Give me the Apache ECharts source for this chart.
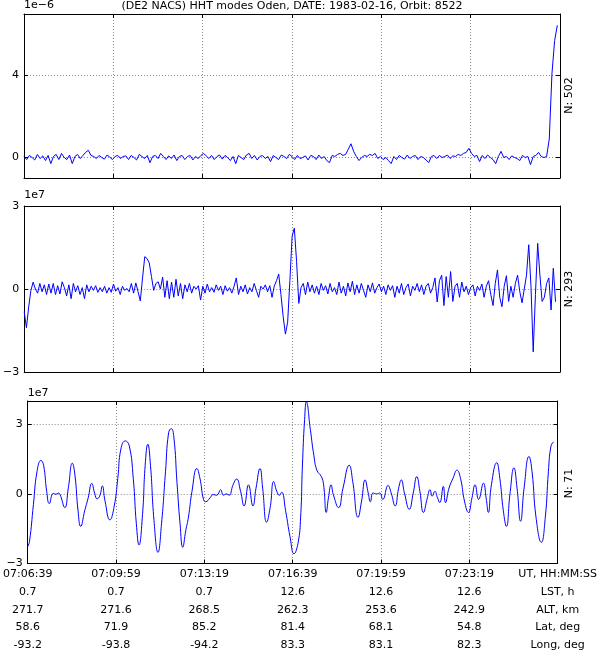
<!DOCTYPE html>
<html><head><meta charset="utf-8">
<script src="https://cdn.jsdelivr.net/npm/echarts@6/dist/echarts.min.js"></script>
<style>html,body{margin:0;padding:0;background:#fff}#c{width:600px;height:654px}</style>
</head><body><div id="c"></div>
<script>
// ---------- data ----------
const titleText = '(DE2 NACS) HHT modes Oden, DATE: 1983-02-16, Orbit: 8522';
const tickSeconds = [0, 200, 400, 600, 800, 1000, 1200]; // seconds after 07:06:39
const utLabels  = ['07:06:39','07:09:59','07:13:19','07:16:39','07:19:59','07:23:19','UT, HH:MM:SS'];
const lstLabels = ['0.7','0.7','0.7','12.6','12.6','12.6','LST, h'];
const altLabels = ['271.7','271.6','268.5','262.3','253.6','242.9','ALT, km'];
const latLabels = ['58.6','71.9','85.2','81.4','68.1','54.8','Lat, deg'];
const lonLabels = ['-93.2','-93.8','-94.2','83.3','83.1','82.3','Long, deg'];
const modeCounts = [502, 293, 71];
const yMultipliers = ['1e\u22126', '1e7', '1e7'];

// mode 1 (units of 1e-6), sampled every 6 s
const mode1Step = 6;
const mode1Values = [
 0.05,-0.1,0.1,0.0,-0.12,0.15,-0.05,0.08,-0.15,0.1,
 -0.3,0.05,0.15,-0.1,0.2,0.0,-0.1,0.12,-0.3,0.05,
 0.15,-0.05,0.1,0.25,0.35,0.1,0.05,-0.05,0.1,0.0,
 -0.08,0.12,0.02,-0.1,0.05,0.1,-0.05,0.05,0.08,-0.1,
 0.1,0.0,-0.12,0.15,0.05,-0.05,0.1,-0.25,0.05,0.1,
 -0.05,0.2,0.05,-0.1,0.08,-0.05,0.12,-0.15,0.05,0.1,
 -0.1,0.05,0.1,-0.12,0.05,-0.05,0.1,0.2,0.08,-0.05,
 0.1,-0.1,0.05,0.12,-0.08,0.1,0.0,-0.15,0.05,-0.3,
 0.1,0.0,-0.1,0.12,0.2,-0.05,0.1,-0.12,0.05,0.1,
 -0.05,0.05,-0.2,0.1,0.0,-0.1,0.12,0.05,-0.05,0.15,
 0.05,-0.1,0.1,-0.05,0.0,0.08,-0.12,0.1,0.05,-0.1,
 0.12,-0.05,0.05,-0.15,-0.25,0.1,0.05,0.15,0.2,0.1,
 0.15,0.4,0.67,0.3,0.05,-0.15,0.0,0.1,0.05,0.15,
 0.1,0.2,-0.05,0.05,-0.1,0.0,-0.15,-0.3,0.05,-0.1,
 0.1,0.0,-0.08,0.12,-0.05,0.05,0.1,-0.1,0.05,0.0,
 -0.12,-0.25,0.05,0.1,-0.05,0.1,0.0,0.05,0.12,-0.05,
 0.08,0.05,0.15,0.1,0.2,0.25,0.45,0.2,0.05,0.1,
 -0.2,0.1,-0.05,0.12,0.0,-0.1,-0.3,0.05,0.3,0.0,
 0.05,-0.1,0.08,0.0,-0.05,-0.15,0.1,0.0,0.05,-0.35,
 0.05,0.1,0.25,0.05,0.0,0.05,0.9,4.1,5.7,6.45
];

// mode 2 (units of 1e7), sampled every 5 s
const mode2Step = 5;
const mode2Values = [
 -0.82,-1.4,-0.65,-0.05,0.25,0.0,-0.15,0.2,-0.1,0.15,
 -0.2,0.18,-0.15,0.2,-0.2,0.12,-0.18,0.26,0.05,-0.25,
 0.15,-0.35,0.2,-0.1,0.12,-0.2,0.05,-0.35,0.15,-0.1,
 0.1,-0.05,0.12,-0.12,0.05,-0.1,0.1,-0.15,0.05,-0.12,
 0.18,-0.08,0.05,-0.2,0.1,-0.05,0.02,-0.1,0.2,-0.15,
 0.22,-0.1,-0.43,0.4,1.17,1.1,0.95,0.45,-0.05,0.2,
 0.26,0.0,0.43,-0.3,0.3,-0.35,0.25,-0.3,0.35,-0.25,
 0.2,-0.35,0.15,-0.1,0.2,-0.15,0.1,0.0,0.12,-0.4,
 0.1,-0.15,0.18,-0.1,0.05,-0.12,0.15,-0.05,0.1,-0.2,
 0.12,-0.08,0.05,-0.15,0.1,0.4,-0.2,0.1,-0.1,0.15,
 -0.18,0.05,-0.1,0.2,-0.05,-0.3,0.1,0.0,0.15,-0.1,
 0.12,-0.3,0.1,0.3,0.54,-0.2,-1.0,-1.63,-1.2,0.3,
 1.9,2.2,1.0,-0.52,0.05,0.2,-0.2,0.25,-0.1,0.15,
 -0.15,0.1,-0.2,0.2,-0.05,0.12,-0.18,0.2,-0.1,0.05,
 -0.2,0.25,-0.15,0.1,-0.25,0.22,-0.1,0.28,-0.2,0.15,
 -0.15,0.2,-0.05,-0.3,0.15,-0.1,0.22,-0.15,0.05,0.18,
 -0.1,0.1,-0.2,0.15,-0.05,0.12,-0.3,0.1,-0.15,0.2,
 -0.2,0.05,0.18,-0.25,0.1,-0.05,0.2,-0.1,0.15,-0.2,
 0.1,0.2,-0.15,0.05,0.4,-0.47,0.3,0.5,-0.6,0.45,
 -0.3,0.63,-0.45,0.1,0.2,-0.3,0.25,-0.1,0.1,-0.2,
 0.05,0.15,-0.25,0.1,-0.05,0.18,-0.3,0.1,0.3,-0.2,
 -0.6,0.2,0.69,-0.3,-0.64,0.1,0.48,-0.45,0.1,-0.3,
 0.2,0.5,-0.1,-0.5,0.0,0.5,1.6,0.1,-2.27,-0.2,
 1.65,0.5,-0.45,-0.3,0.2,0.4,-0.76,0.75,-0.46
];

// mode 3 (units of 1e7), times in seconds after 07:06:39
const mode3Times = [
 0,4,13,21,30,36,43,49,58,64,
 69,73,84,92,101,107,114,120,129,137,
 145,152,157,163,169,175,186,196,204,211,
 221,230,239,246,252,260,266,272,278,286,
 295,303,312,319,325,331,338,345,351,358,
 364,372,383,390,398,403,413,420,428,437,
 443,450,456,465,473,482,490,500,510,517,
 526,532,541,549,557,564,570,575,584,594,
 603,612,618,622,627,631,640,648,655,665,
 670,676,681,687,692,704,714,728,736,748,
 756,764,771,776,782,790,797,804,816,823,
 832,840,846,853,864,873,881,888,896,905,
 911,916,922,928,933,941,946,954,963,972,
 980,989,998,1006,1013,1021,1032,1038,1043,1050,
 1062,1069,1077,1084,1092,1101,1108,1116,1124,1135,
 1142,1151,1163,1172,1179,1185,1191
];
const mode3Values = [
 -2.27,-2.06,-0.45,0.95,1.44,1.23,0.11,-0.42,0.02,-0.02,
 0.03,-0.02,-0.59,0.26,1.32,0.8,-0.73,-1.4,-0.73,-0.17,
 0.45,0,-0.21,-0.1,0.34,-0.3,-1.12,-0.52,0.67,1.93,
 2.28,2.07,0.67,-1.29,-2.2,-0.88,1.23,2.14,1.23,-1.15,
 -2.52,-1.29,0.95,2.63,2.81,2.43,0.5,-1.29,-2.3,-1.57,
 -1.0,0.11,1.09,0.67,-0.24,-0.34,-0.17,-0.03,-0.06,0.18,
 -0.06,0,-0.06,0.39,0.64,0.11,-0.52,0.39,-0.52,0.25,
 1.09,0.25,-1.22,-0.59,0.53,0.11,-0.06,0.07,-0.73,-1.85,
 -2.58,-2.13,-1.0,1.2,3.2,3.96,2.77,1.65,1.01,0.74,
 0.39,-0.8,-0.17,0.39,-0.03,-0.59,0.25,1.23,0.53,-1.01,
 -0.31,0.6,0.04,-0.34,0.04,0,0.04,-0.24,0.36,0.04,
 -0.52,0.25,0.6,0.04,-0.66,0.04,0.74,0.11,-0.8,-0.17,
 0.18,-0.1,0.11,-0.17,-0.38,0.32,-0.38,0.25,0.67,1.02,
 0.67,-0.31,-0.8,-0.17,0.39,-0.24,0.46,-0.17,-0.8,0.39,
 1.34,0.67,-0.73,-1.4,0,1.12,0.25,-1.18,0.25,1.61,
 0.95,-1.01,-2.09,-1.01,0.95,2.07,2.24
];

// y axis ranges and ticks (in the multiplier units)
const yRanges = [[-1, 7], [-3, 3], [-3, 4]];
const yGridTicks = [[0, 4], [0], [0, 3]];
const yTickLabels = [[0, 4], [-3, 0, 3], [-3, 0, 3]];

// ---------- chart ----------
const FONT = 'DejaVu Sans';
const FS = 11;
const BLUE = '#0000ff';
const grids = [
  {left: 24, top: 13, width: 536, height: 165},
  {left: 24, top: 206, width: 536, height: 166},
  {left: 24, top: 401, width: 536, height: 165}
];
const innerX = tickSeconds.slice(1, -1);
const gridLine = {show: true, lineStyle: {color: '#8a8a8a', width: 1, type: [1, 2]}};
const frame = {show: true, onZero: false, lineStyle: {color: '#000', width: 1}};
const minus = v => (v < 0 ? '\u2212' + Math.abs(v) : String(v));

const xAxes = [], yAxes = [], series = [], graphics = [];
grids.forEach((g, gi) => {
  xAxes.push({
    type: 'value', gridIndex: gi, position: 'bottom', min: 0, max: 1200, interval: 200,
    axisLine: frame,
    axisTick: {show: true, inside: true, length: 4, customValues: innerX, lineStyle: {color: '#000'}},
    splitLine: gridLine,
    axisLabel: {
      show: gi === 2, customValues: tickSeconds, margin: 2,
      fontFamily: FONT, fontSize: FS, color: '#000', lineHeight: 17.7, align: 'center',
      formatter: v => {
        const k = tickSeconds.indexOf(Math.round(v));
        return [utLabels[k], lstLabels[k], altLabels[k], latLabels[k], lonLabels[k]].join('\n');
      }
    }
  });
  xAxes.push({
    type: 'value', gridIndex: gi, position: 'top', min: 0, max: 1200, interval: 200,
    axisLine: frame,
    axisTick: {show: true, inside: true, length: 4, customValues: innerX, lineStyle: {color: '#000'}},
    splitLine: {show: false}, axisLabel: {show: false}
  });
  yAxes.push({
    type: 'value', gridIndex: gi, position: 'left', min: yRanges[gi][0], max: yRanges[gi][1],
    axisLine: frame,
    axisTick: {show: true, inside: true, length: 4, customValues: yGridTicks[gi], lineStyle: {color: '#000'}},
    splitLine: gridLine,
    axisLabel: {customValues: yTickLabels[gi], formatter: minus, margin: 5,
      fontFamily: FONT, fontSize: FS, color: '#000'},
    name: yMultipliers[gi], nameLocation: 'end', nameGap: gi === 0 ? 3 : 2,
    nameTextStyle: {align: 'left', fontFamily: FONT, fontSize: FS, color: '#000', padding: 0}
  });
  yAxes.push({
    type: 'value', gridIndex: gi, position: 'right', min: yRanges[gi][0], max: yRanges[gi][1],
    axisLine: frame,
    axisTick: {show: true, inside: true, length: 4, customValues: yGridTicks[gi], lineStyle: {color: '#000'}},
    splitLine: {show: false}, axisLabel: {show: false}
  });
  graphics.push({
    type: 'text', x: g.left + g.width + 9, y: g.top + g.height / 2, rotation: Math.PI / 2,
    style: {text: 'N: ' + modeCounts[gi], font: FS + 'px "' + FONT + '"', fill: '#000',
      align: 'center', verticalAlign: 'middle'}
  });
});

series.push({type: 'line', xAxisIndex: 0, yAxisIndex: 0, showSymbol: false, animation: false,
  lineStyle: {color: BLUE, width: 1}, data: mode1Values.map((v, i) => [i * mode1Step, v])});
series.push({type: 'line', xAxisIndex: 2, yAxisIndex: 2, showSymbol: false, animation: false,
  lineStyle: {color: BLUE, width: 1}, data: mode2Values.map((v, i) => [i * mode2Step, v])});
series.push({type: 'line', xAxisIndex: 4, yAxisIndex: 4, showSymbol: false, animation: false,
  smooth: 0.5,
  lineStyle: {color: BLUE, width: 1}, data: mode3Times.map((t, i) => [t, mode3Values[i]])});

graphics.push({
  type: 'text', x: 292, y: 6,
  style: {text: titleText, font: FS + 'px "' + FONT + '"', fill: '#000', align: 'center', verticalAlign: 'middle'}
});

const chart = echarts.init(document.getElementById('c'), null, {renderer: 'canvas'});
chart.setOption({
  animation: false,
  backgroundColor: '#fff',
  grid: grids,
  xAxis: xAxes,
  yAxis: yAxes,
  series: series,
  graphic: graphics
});
</script>
</body></html>
